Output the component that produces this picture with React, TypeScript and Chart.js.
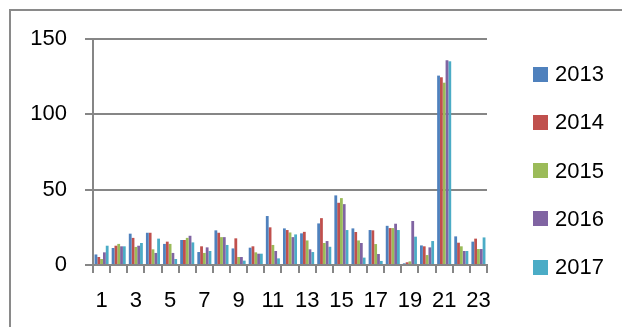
import React, { useEffect, useRef } from "react";
import { Chart, registerables } from "chart.js";

Chart.register(...registerables);

const categories = Array.from({ length: 23 }, (_, i) => String(i + 1));
const seriesNames = ["2013", "2014", "2015", "2016", "2017"];
const colors = ["#4F81BD", "#C0504D", "#9BBB59", "#8064A2", "#4BACC6"];

const v2013 = [7, 11.3, 20.8, 21.4, 14, 16.6, 8.6, 23, 11, 11.5, 32.5, 24.3, 21, 27.6, 46.2, 24.3, 23.2, 26, 1.1, 13, 125.7, 19, 15.5];
const v2014 = [5.3, 12.8, 18, 21.4, 15.5, 16.6, 12.4, 21.4, 17.7, 12.4, 25, 23.2, 22, 31.1, 41.3, 21.9, 23, 24.5, 1.8, 12.4, 124.6, 14.8, 17.5];
const v2015 = [4, 14, 12, 10.4, 14, 18, 8, 18.5, 5.3, 8.4, 13.3, 21.6, 16.3, 14.6, 44.4, 16.3, 13.9, 24.5, 2.4, 6.6, 121, 12.4, 10.6];
const v2016 = [8.4, 12.4, 12.8, 8, 8, 19.4, 11.7, 18.5, 5.3, 7.5, 9.3, 18.5, 10.4, 15.9, 40.4, 14.6, 7.3, 27.4, 29.2, 11.7, 135.9, 9.3, 10.6];
const v2017 = [12.8, 12.4, 14.6, 17.5, 4, 15, 9.3, 13.3, 2.9, 7.5, 4.4, 20.3, 8.6, 12.1, 23.2, 4.9, 2.7, 23.2, 18.8, 15.9, 135.2, 9.3, 18.3];
const seriesValues = [v2013, v2014, v2015, v2016, v2017];

const yTicks = [0, 50, 100, 150];

const FONT = "'Liberation Sans', Arial, sans-serif";
const AXIS = "#868686";

export default function App() {
  const ref = useRef<HTMLCanvasElement | null>(null);

  useEffect(() => {
    if (!ref.current) return;
    const chart = new Chart(ref.current, {
      type: "bar",
      data: {
        labels: categories,
        datasets: seriesNames.map((name, i) => ({
          label: name,
          data: seriesValues[i],
          backgroundColor: colors[i],
          borderWidth: 0,
          categoryPercentage: 0.82,
          barPercentage: 1.0,
        })),
      },
      options: {
        animation: false,
        responsive: false,
        maintainAspectRatio: false,
        layout: { padding: { top: 39, right: 135, left: 0, bottom: 0 } },
        plugins: { legend: { display: false }, tooltip: { enabled: false } },
        scales: {
          x: {
            grid: {
              offset: true,
              drawOnChartArea: false,
              drawTicks: true,
              tickLength: 8,
              color: AXIS,
              lineWidth: 2,
            },
            border: { display: true, color: AXIS, width: 2 },
            ticks: {
              autoSkip: false,
              maxRotation: 0,
              padding: 15,
              color: "#000",
              font: { family: FONT, size: 22 },
              callback: (_v: any, i: number) => (i % 2 === 0 ? categories[i] : ""),
            },
            afterFit: (s: any) => {
              s.height = 62;
            },
          },
          y: {
            min: 0,
            max: 150,
            afterBuildTicks: (s: any) => {
              s.ticks = yTicks.map((v) => ({ value: v }));
            },
            grid: {
              color: AXIS,
              lineWidth: 2,
              tickLength: 8,
            },
            border: { display: true, color: AXIS, width: 2 },
            ticks: {
              padding: 18,
              color: "#000",
              font: { family: FONT, size: 22 },
            },
            afterFit: (s: any) => {
              s.width = 93;
            },
          },
        },
      },
    });
    return () => chart.destroy();
  }, []);

  return (
    <div style={{ position: "absolute", left: 0, top: 0, width: 622, height: 327, overflow: "hidden", background: "#fff" }}>
      <div
        style={{
          position: "absolute",
          left: 9,
          top: 9,
          width: 700,
          height: 400,
          border: "2px solid #8a8a8a",
        }}
      />
      <canvas ref={ref} width={622} height={327} style={{ position: "absolute", left: 0, top: 0 }} />
      {seriesNames.map((name, i) => (
        <div
          key={name}
          style={{
            position: "absolute",
            left: 533,
            top: 74 + i * 48.3 - 14,
            height: 28,
            display: "flex",
            alignItems: "center",
            fontFamily: FONT,
            fontSize: 22,
            color: "#000",
          }}
        >
          <span style={{ display: "inline-block", width: 15, height: 15, background: colors[i], marginRight: 7 }} />
          <span>{name}</span>
        </div>
      ))}
    </div>
  );
}
